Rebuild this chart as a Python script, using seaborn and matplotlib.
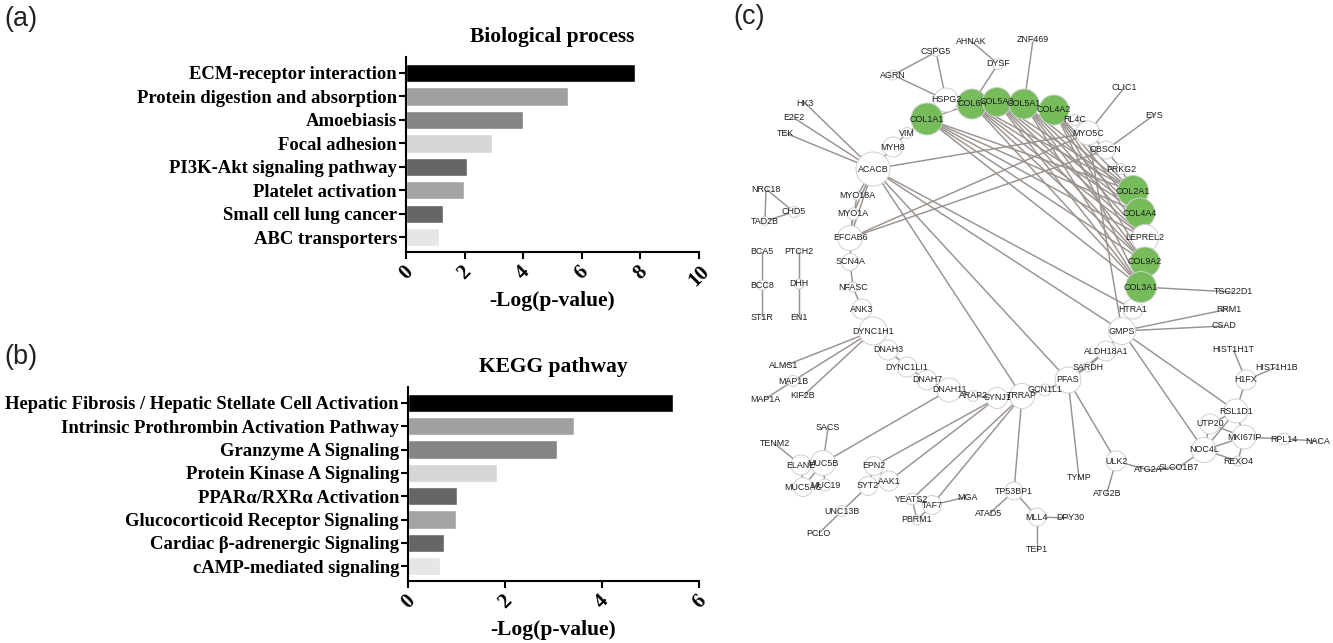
from itertools import product

import matplotlib
matplotlib.use("Agg")
import matplotlib.pyplot as plt
import pandas as pd
import seaborn as sns

sns.set_theme(style="ticks")
plt.rcParams["font.family"] = ["Liberation Serif", "DejaVu Serif"]

W, H = 1333, 643

# bar panels
bp_terms = ["ECM-receptor interaction", "Protein digestion and absorption", "Amoebiasis",
            "Focal adhesion", "PI3K-Akt signaling pathway", "Platelet activation",
            "Small cell lung cancer", "ABC transporters"]
bp_values = [7.82, 5.53, 4.01, 2.93, 2.07, 1.98, 1.26, 1.14]

kegg_terms = ["Hepatic Fibrosis / Hepatic Stellate Cell Activation",
              "Intrinsic Prothrombin Activation Pathway", "Granzyme A Signaling",
              "Protein Kinase A Signaling", "PPARα/RXRα Activation",
              "Glucocorticoid Receptor Signaling", "Cardiac β-adrenergic Signaling",
              "cAMP-mediated signaling"]
kegg_values = [5.47, 3.42, 3.07, 1.84, 1.01, 0.98, 0.74, 0.66]

bar_greys = ["#000000", "#A0A0A2", "#858585", "#D6D6D6", "#666666", "#A3A3A5", "#666666", "#E6E6E6"]

# network panel: name, layout x, layout y, node diameter
node_names = ["AHNAK", "CSPG5", "DYSF", "ZNF469", "AGRN", "HSPG2", "VIM", "MYH8", "ACACB", "HK3",
              "E2F2", "TEK", "NRC18", "TAD2B", "CHD5", "MYO18A", "MYO1A", "EFCAB6", "SCN4A", "NFASC",
              "ANK3", "DYNC1H1", "BCA5", "BCC8", "ST1R", "PTCH2", "DHH", "EN1", "CLIC1", "EYS",
              "RL4C", "MYO5C", "OBSCN", "PRKG2", "TSC22D1", "HTRA1", "RRM1", "CSAD", "GMPS",
              "ALDH18A1", "SARDH", "PFAS", "GCN1L1", "HIST1H1T", "HIST1H1B", "H1FX", "RSL1D1", "UTP20",
              "MKI67IP", "RPL14", "NACA", "NOC4L", "REXO4", "SLCO1B7", "ATG2A", "ULK2", "ATG2B", "TYMP",
              "MLL4", "DPY30", "TEP1", "DNAH3", "DYNC1LI1", "DNAH7", "DNAH11", "ARAP2", "SYNJ1", "TRRAP",
              "ALMS1", "MAP1B", "MAP1A", "KIF2B", "SACS", "TENM2", "ELANE", "MUC5B", "MUC5AC", "MUC19",
              "EPN2", "SYT2", "AAK1", "UNC13B", "PCLO", "YEATS2", "TAF7", "MGA", "PBRM1", "TP53BP1",
              "ATAD5",
              "COL1A1", "COL6A", "COL5A3", "COL5A1", "COL4A2", "COL2A1", "COL4A4", "LEPREL2", "COL9A2", "COL3A1"]
node_x = [971, 936, 998, 1033, 893, 946, 907, 893, 873, 805,
          794, 785, 766, 765, 794, 857, 853, 850, 850, 853,
          862, 873, 762, 762, 762, 799, 799, 799, 1124, 1154,
          1075, 1088, 1106, 1121, 1233, 1133, 1229, 1224, 1122,
          1106, 1088, 1068, 1045, 1233, 1277, 1246, 1236, 1210,
          1244, 1284, 1318, 1204, 1238, 1179, 1148, 1116, 1107, 1079,
          1037, 1070, 1037, 888, 907, 927, 949, 973, 997, 1022,
          784, 793, 765, 803, 828, 775, 801, 823, 803, 825,
          874, 868, 889, 842, 818, 912, 932, 967, 917, 1014,
          989,
          927, 972, 997, 1024, 1054, 1133, 1140, 1145, 1145, 1141]
node_y = [41, 52, 64, 40, 75, 100, 133, 147, 169, 103,
          118, 133, 189, 221, 212, 196, 214, 238, 262, 287,
          309, 331, 251, 285, 318, 251, 284, 318, 88, 115,
          120, 133, 150, 169, 292, 309, 309, 326, 331,
          351, 367, 380, 390, 349, 367, 380, 411, 424,
          437, 439, 441, 450, 461, 467, 470, 461, 493, 478,
          517, 518, 550, 350, 367, 380, 390, 396, 398, 396,
          366, 381, 399, 396, 428, 444, 465, 463, 487, 485,
          466, 486, 481, 511, 534, 499, 505, 497, 520, 491,
          514,
          119, 104, 102, 104, 110, 191, 213, 238, 262, 287]
node_diam = [3, 9, 11, 3, 10, 24, 11, 20, 34, 3,
             3, 3, 3, 9, 11, 8, 12, 25, 17, 10,
             20, 28, 3, 10, 3, 3, 10, 3, 3, 3,
             11, 24, 18, 11, 3, 20, 3, 3, 27,
             20, 10, 26, 12, 3, 3, 20, 24, 20,
             24, 12, 3, 25, 10, 3, 3, 20, 3, 3,
             18, 3, 3, 20, 20, 20, 24, 11, 21, 25,
             3, 11, 3, 3, 3, 3, 20, 25, 19, 12,
             19, 19, 20, 11, 3, 12, 19, 3, 10, 18,
             3,
             32, 30, 29, 30, 30, 31, 30, 27, 30, 31]
collagen_a = ["COL1A1", "COL6A", "COL5A3", "COL5A1", "COL4A2"]
collagen_b = ["COL2A1", "COL4A4", "LEPREL2", "COL9A2", "COL3A1"]
green_nodes = collagen_a + ["COL2A1", "COL4A4", "COL9A2", "COL3A1"]
other_edges = [("AHNAK", "DYSF"), ("DYSF", "COL6A"), ("ZNF469", "COL5A1"), ("CSPG5", "AGRN"),
               ("CSPG5", "HSPG2"), ("AGRN", "HSPG2"), ("COL1A1", "COL6A"), ("COL1A1", "HSPG2"),
               ("VIM", "COL1A1"), ("VIM", "MYH8"), ("MYH8", "ACACB"), ("HK3", "ACACB"), ("E2F2", "ACACB"),
               ("TEK", "ACACB"), ("ACACB", "MYO18A"), ("ACACB", "MYO1A"), ("ACACB", "EFCAB6"),
               ("MYO18A", "EFCAB6"), ("MYO1A", "EFCAB6"), ("EFCAB6", "SCN4A"), ("SCN4A", "NFASC"),
               ("NFASC", "ANK3"), ("ANK3", "DYNC1H1"), ("ACACB", "MYO5C"), ("ACACB", "TRRAP"),
               ("ACACB", "PFAS"), ("ACACB", "GMPS"), ("ACACB", "HTRA1"), ("EFCAB6", "MYO5C"),
               ("EFCAB6", "OBSCN"), ("MYO5C", "CLIC1"), ("OBSCN", "EYS"), ("MYO5C", "OBSCN"),
               ("OBSCN", "PRKG2"), ("PRKG2", "COL2A1"), ("MYO5C", "GMPS"), ("RL4C", "MYO5C"),
               ("COL3A1", "TSC22D1"), ("COL3A1", "HTRA1"), ("GMPS", "RRM1"), ("GMPS", "CSAD"),
               ("GMPS", "ALDH18A1"), ("GMPS", "RSL1D1"), ("GMPS", "NOC4L"), ("ALDH18A1", "SARDH"),
               ("SARDH", "PFAS"), ("ALDH18A1", "PFAS"), ("PFAS", "GCN1L1"), ("PFAS", "TYMP"), ("PFAS", "ULK2"),
               ("ULK2", "ATG2B"), ("ULK2", "ATG2A"), ("ATG2A", "SLCO1B7"), ("SLCO1B7", "NOC4L"),
               ("GCN1L1", "TRRAP"), ("TRRAP", "SYNJ1"), ("SYNJ1", "ARAP2"), ("ARAP2", "DNAH11"),
               ("DYNC1H1", "DNAH3"), ("DNAH3", "DYNC1LI1"), ("DYNC1LI1", "DNAH7"), ("DNAH7", "DNAH11"),
               ("DYNC1H1", "ALMS1"), ("DYNC1H1", "MAP1B"), ("MAP1B", "MAP1A"), ("DYNC1H1", "KIF2B"),
               ("DNAH11", "MUC5B"), ("MUC5B", "SACS"), ("MUC5B", "ELANE"), ("MUC5B", "MUC19"),
               ("MUC5B", "MUC5AC"), ("ELANE", "TENM2"), ("ELANE", "MUC5AC"), ("SYNJ1", "EPN2"),
               ("SYNJ1", "AAK1"), ("EPN2", "AAK1"), ("EPN2", "SYT2"), ("SYT2", "AAK1"), ("SYT2", "UNC13B"),
               ("UNC13B", "PCLO"), ("TRRAP", "YEATS2"), ("TRRAP", "TAF7"), ("YEATS2", "TAF7"),
               ("YEATS2", "PBRM1"), ("PBRM1", "TAF7"), ("TAF7", "MGA"), ("TRRAP", "TP53BP1"),
               ("TP53BP1", "ATAD5"), ("TP53BP1", "MLL4"), ("MLL4", "DPY30"), ("MLL4", "TEP1"),
               ("H1FX", "HIST1H1T"), ("H1FX", "HIST1H1B"), ("H1FX", "RSL1D1"), ("RSL1D1", "UTP20"),
               ("RSL1D1", "MKI67IP"), ("RSL1D1", "NOC4L"), ("UTP20", "MKI67IP"), ("UTP20", "NOC4L"),
               ("MKI67IP", "NOC4L"), ("MKI67IP", "RPL14"), ("RPL14", "NACA"), ("MKI67IP", "REXO4"),
               ("NOC4L", "REXO4"), ("NRC18", "TAD2B"), ("NRC18", "CHD5"), ("TAD2B", "CHD5"),
               ("BCA5", "BCC8"), ("BCC8", "ST1R"), ("PTCH2", "DHH"), ("DHH", "EN1")]


def px_axes(fig, left, top, right, bottom):
    return fig.add_axes([left / W, 1 - bottom / H, (right - left) / W, (bottom - top) / H])


def bar_panel(ax, terms, values, xmax, ticks, title, label_pad):
    sns.barplot(x=values, y=terms, hue=terms, palette=bar_greys, legend=False,
                orient="h", width=0.78, saturation=1, ax=ax)
    ax.set_xlim(0, xmax)
    ax.set_ylim(7.63, -0.68)
    ax.set_xticks(ticks)
    ax.tick_params(axis="both", length=5, width=1.5, color="black", labelcolor="black", pad=2)
    ax.tick_params(axis="y", pad=1.5)
    for lab in ax.get_yticklabels():
        lab.set_fontsize(13.4)
        lab.set_fontweight("bold")
    for lab in ax.get_xticklabels():
        lab.set_fontsize(15)
        lab.set_fontweight("bold")
        lab.set_rotation(45)
        lab.set_ha("center")
    ax.set_xlabel("-Log(p-value)", fontsize=15.5, fontweight="bold", color="black", labelpad=label_pad)
    ax.set_ylabel("")
    sns.despine(ax=ax)
    ax.spines["left"].set_linewidth(1.5)
    ax.spines["bottom"].set_linewidth(1.5)
    ax.spines["left"].set_color("black")
    ax.spines["bottom"].set_color("black")
    ax.set_title(title, fontsize=15.5, fontweight="bold", color="black", pad=11, x=0.5)


fig = plt.figure(figsize=(W / 100, H / 100), dpi=100)

ax_a = px_axes(fig, 406, 57, 699, 252)
bar_panel(ax_a, bp_terms, bp_values, 10, [0, 2, 4, 6, 8, 10], "Biological process", 0)
ax_b = px_axes(fig, 408, 387, 699, 581)
bar_panel(ax_b, kegg_terms, kegg_values, 6, [0, 2, 4, 6], "KEGG pathway", 5.5)

ax_c = px_axes(fig, 740, 20, 1333, 560)
ax_c.set_xlim(740, 1333)
ax_c.set_ylim(560, 20)
ax_c.axis("off")

nodes = pd.DataFrame({"name": node_names, "x": node_x, "y": node_y, "diam": node_diam})
nodes["area"] = (nodes["diam"] * 0.72) ** 2
nodes["group"] = ["green" if n in green_nodes else "plain" for n in nodes["name"]]
pos = nodes.set_index("name")

edges = other_edges + [e for e in product(collagen_a, collagen_b)]
for a, b in edges:
    ax_c.plot([pos.loc[a, "x"], pos.loc[b, "x"]], [pos.loc[a, "y"], pos.loc[b, "y"]],
              color="#9A928E", lw=1.05, zorder=1, solid_capstyle="round")

sns.scatterplot(data=nodes, x="x", y="y", hue="group", size="area",
                palette={"green": "#76BC5A", "plain": "white"},
                sizes=(nodes["area"].min(), nodes["area"].max()), legend=False,
                edgecolor="#CFCFCF", linewidth=0.7, zorder=2, ax=ax_c, clip_on=False)
ax_c.set_xlabel("")
ax_c.set_ylabel("")
for name, x, y in zip(node_names, node_x, node_y):
    ax_c.text(x, y, name, family=["Liberation Sans", "DejaVu Sans"], fontsize=6.4, color="#1E1E1E",
              ha="center", va="center", zorder=3)

for label, x, y in [("(a)", 21, 19), ("(b)", 21, 357), ("(c)", 749, 17)]:
    fig.text(x / W, 1 - y / H, label, family=["Liberation Sans", "DejaVu Sans"], fontsize=19.5,
             color="#222222", ha="center", va="center")

fig.savefig("out.png", dpi=100)
